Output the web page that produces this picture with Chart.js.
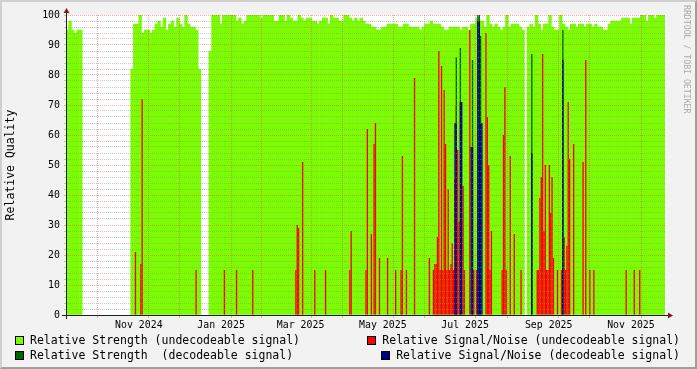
<!DOCTYPE html>
<html><head><meta charset="utf-8">
<script src="https://cdn.jsdelivr.net/npm/chart.js@4/dist/chart.umd.min.js"></script>
<style>
html,body{margin:0;padding:0;}
body{width:697px;height:369px;overflow:hidden;background:#f2f2f2;position:relative;font-family:"DejaVu Sans Mono",monospace;}
#frame{position:absolute;left:0;top:0;width:697px;height:369px;box-sizing:border-box;border-top:2px solid #cfcfcf;border-left:2px solid #cfcfcf;border-right:2px solid #9e9e9e;border-bottom:2px solid #9e9e9e;}
canvas{position:absolute;left:0;top:0;}
.item{position:absolute;display:flex;align-items:flex-start;}
.sw{width:7px;height:7px;border:1px solid #000;margin-top:1px;margin-right:6px;flex:none;}
.tx{font-size:11.5px;line-height:11.5px;white-space:pre;color:#000;}
#wm{position:absolute;writing-mode:vertical-rl;font-size:8.2px;line-height:10px;color:#aaa;left:682px;top:5px;white-space:pre;}
</style></head>
<body>
<div id="frame"></div>
<canvas id="c" width="697" height="369"></canvas>
<div id="legend"></div>
<div id="wm">RRDTOOL / TOBI OETIKER</div>
<script>
// ---------- data ----------
const startDate = '2024-09-23';
const spanDays = 445;
const yTitle = 'Relative Quality';
const seriesNames = [
  'Relative Strength (undecodeable signal)',
  'Relative Signal/Noise (undecodeable signal)',
  'Relative Strength  (decodeable signal)',
  'Relative Signal/Noise (decodeable signal)'
];
const seriesColors = ['#7CFC00', '#FF0000', '#006400', '#00008B'];

// Relative Strength (undecodeable): one value per 2-day step from startDate
const strengthStepDays = 2;
const strengthUndecodeable = [
  95,98,95,94,95,95,
  null,null,null,null,null,null,null,null,null,null,null,null,null,null,null,null,null,null,
  82,97,97,100,94,95,95,94,95,97,98,96,99,95,97,98,96,99,97,96,100,97,96,96,95,82,
  null,null,null,
  88,
  100,100,100,97,100,100,100,100,100,98,
  99,97,98,100,100,100,100,100,99,100,
  100,100,100,98,98,100,100,98,100,99,
  98,98,100,99,98,99,99,98,98,97,
  98,99,99,97,100,99,99,98,98,100,
  100,99,98,99,98,99,98,97,97,96,
  96,95,95,96,96,97,97,97,97,96,
  96,97,97,96,96,96,96,95,96,97,
  97,98,97,97,97,96,95,95,96,96,
  96,96,95,96,96,95,97,97,99,98,
  98,96,100,97,96,97,96,95,96,100,
  96,97,97,97,96,95,null,96,97,96,
  100,97,95,97,97,100,96,95,95,100,
  97,96,95,97,97,96,97,97,96,97,
  97,96,97,96,96,95,95,97,98,98,
  98,98,99,99,99,97,99,99,99,100,
  100,98,100,100,99,100,100,100
];

// Relative Signal/Noise (undecodeable): day offset from startDate, value
const snUndecDays = [51,55,56,96,117,126,138,170,171,172,175,184,192,210,211,222,223,226,228,229,232,238,244,248,249,252,258,269,272,273,274,275,276,277,278,279,280,281,282,283,284,285,286,287,288,289,290,291,292,294,295,299,302,304,311,312,313,314,315,323,324,325,326,329,332,337,349,350,351,352,353,354,355,356,357,358,359,360,361,364,367,369,370,371,372,373,376,383,385,388,391,415,421,425];
const snUndecValues = [21,17,72,15,15,15,15,15,30,29,51,15,15,15,28,15,62,27,57,64,19,19,15,15,53,15,79,19,15,17,17,26,88,15,83,15,75,57,15,42,15,17,24,15,45,70,55,31,22,43,15,95,15,15,94,66,50,15,28,15,60,76,15,53,27,15,15,15,39,46,87,28,50,15,15,50,34,46,19,15,15,26,15,23,71,52,57,51,85,15,15,15,15,15];

// Relative Strength (decodeable)
const strengthDecDays = [289,292,301,305,306,307,345,368];
const strengthDecValues = [86,89,85,100,100,93,87,95];

// Relative Signal/Noise (decodeable)
const snDecDays = [288,289,292,293,300,301,305,306,307,308,345,368];
const snDecValues = [64,64,71,71,56,56,98,98,64,64,54,85];

// axis
const monthStarts = ['2024-10-01','2024-11-01','2024-12-01','2025-01-01','2025-02-01','2025-03-01','2025-04-01','2025-05-01','2025-06-01','2025-07-01','2025-08-01','2025-09-01','2025-10-01','2025-11-01','2025-12-01'];
const xTickDates = ['2024-11-16','2025-01-16','2025-03-16','2025-05-16','2025-07-16','2025-09-16','2025-11-16'];
const xTickLabels = ['Nov 2024','Jan 2025','Mar 2025','May 2025','Jul 2025','Sep 2025','Nov 2025'];
const yMajorStep = 10, yMinorStep = 2;

// ---------- helpers ----------
function utc(s){ const [y,m,d] = s.split('-').map(Number); return Date.UTC(y, m-1, d); }
const dayOf = s => (utc(s) - utc(startDate)) / 864e5;
const monthDays = monthStarts.map(dayOf);
const monthSet = new Set(monthDays);
const labelMap = new Map(xTickDates.map((s,i)=>[dayOf(s), xTickLabels[i]]));
const allXTicks = [...monthDays, ...labelMap.keys()].sort((a,b)=>a-b);

const MAJOR = 'rgba(222,79,79,0.45)';
const MINOR = 'rgba(143,143,143,0.5)';
const NONE = 'rgba(0,0,0,0)';
const FONT = 'DejaVu Sans Mono';

// legend
const legend = document.getElementById('legend');
const legendPos = [
  {left:'15px', top:'335.3px'}, {right:'17px', top:'335.3px'},
  {left:'15px', top:'350px'}, {right:'17px', top:'350px'}
];
seriesNames.forEach((n,i)=>{
  const it = document.createElement('div'); it.className='item';
  Object.assign(it.style, legendPos[i]);
  const sw = document.createElement('div'); sw.className='sw'; sw.style.background = seriesColors[i];
  const tx = document.createElement('span'); tx.className='tx'; tx.textContent = n;
  it.appendChild(sw); it.appendChild(tx); legend.appendChild(it);
});

const spikes = (days, vals) => days.map((d,i)=>({x: d + 0.5, y: vals[i]}));
const barCommon = {type:'bar', grouped:false, barPercentage:1, categoryPercentage:1, borderWidth:0};

const rrdFrame = {
  id:'rrdFrame',
  beforeDraw(chart){
    const {ctx, chartArea:a} = chart;
    ctx.save(); ctx.fillStyle = '#ffffff';
    ctx.fillRect(a.left, a.top, a.right-a.left, a.bottom-a.top); ctx.restore();
  },
  afterDraw(chart){
    const {ctx, chartArea:a} = chart;
    ctx.save();
    ctx.strokeStyle = '#1f1f1f'; ctx.lineWidth = 1;
    ctx.beginPath();
    ctx.moveTo(a.left-4, a.bottom+0.5); ctx.lineTo(a.right+4, a.bottom+0.5);
    ctx.moveTo(a.left+0.5, a.bottom+4); ctx.lineTo(a.left+0.5, a.top-4);
    ctx.stroke();
    ctx.fillStyle = '#801f1f';
    ctx.beginPath();
    ctx.moveTo(a.right+2, a.bottom+0.5-3); ctx.lineTo(a.right+2, a.bottom+0.5+3); ctx.lineTo(a.right+7, a.bottom+0.5); ctx.closePath(); ctx.fill();
    ctx.beginPath();
    ctx.moveTo(a.left+0.5-3, a.top-2); ctx.lineTo(a.left+0.5+3, a.top-2); ctx.lineTo(a.left+0.5, a.top-7); ctx.closePath(); ctx.fill();
    ctx.restore();
  }
};

new Chart(document.getElementById('c'), {
  data: {
    datasets: [
      {...barCommon, label: seriesNames[0], xAxisID:'x2', order:3, backgroundColor: seriesColors[0],
        data: strengthUndecodeable.map((v,k)=>({x: k*strengthStepDays + strengthStepDays/2, y: v}))},
      {...barCommon, label: seriesNames[1], xAxisID:'x', order:2, backgroundColor: seriesColors[1], inflateAmount:0,
        data: spikes(snUndecDays, snUndecValues)},
      {...barCommon, label: seriesNames[2], xAxisID:'x', order:1, backgroundColor: seriesColors[2], inflateAmount:0,
        data: spikes(strengthDecDays, strengthDecValues)},
      {...barCommon, label: seriesNames[3], xAxisID:'x', order:0, backgroundColor: seriesColors[3], inflateAmount:0,
        data: spikes(snDecDays, snDecValues)}
    ]
  },
  options: {
    responsive:false, animation:false, devicePixelRatio:1,
    layout:{padding:{left:0, top:15, right:31, bottom:34}},
    plugins:{legend:{display:false}, tooltip:{enabled:false}},
    scales:{
      x:{type:'linear', min:0, max:spanDays, offset:false,
        afterFit: s => { s.height = 20; },
        afterBuildTicks: s => { s.ticks = allXTicks.map(v=>({value:v})); },
        grid:{z:1, lineWidth:1, drawTicks:true, tickLength:3,
          color: c => (c.tick && monthSet.has(c.tick.value)) ? MAJOR : NONE,
          tickColor: c => (c.tick && monthSet.has(c.tick.value)) ? MAJOR : NONE},
        border:{display:false, dash:[1,1]},
        ticks:{autoSkip:false, maxRotation:0, minRotation:0, padding:1, color:'#000',
          font:{family:FONT, size:9.9}, callback: v => labelMap.get(v) ?? ''}},
      x2:{type:'linear', min:0, max:spanDays, display:false, offset:false},
      y:{min:0, max:100,
        afterFit: s => { s.width = 66; },
        ticks:{stepSize:yMinorStep, autoSkip:false, padding:4, color:'#000',
          font:{family:FONT, size:9.9}, callback: v => (v % yMajorStep === 0) ? String(v) : ''},
        grid:{z:1, lineWidth:1, tickLength:2,
          color: c => (c.tick && c.tick.value % yMajorStep === 0) ? MAJOR : MINOR,
          tickColor: c => (c.tick && c.tick.value % yMajorStep === 0) ? MAJOR : MINOR},
        border:{display:false, dash:[1,1]},
        title:{display:true, text:yTitle, color:'#000', font:{family:FONT, size:11.5}, padding:{top:4.6, bottom:0}}}
    }
  },
  plugins:[rrdFrame]
});
</script>
</body></html>
